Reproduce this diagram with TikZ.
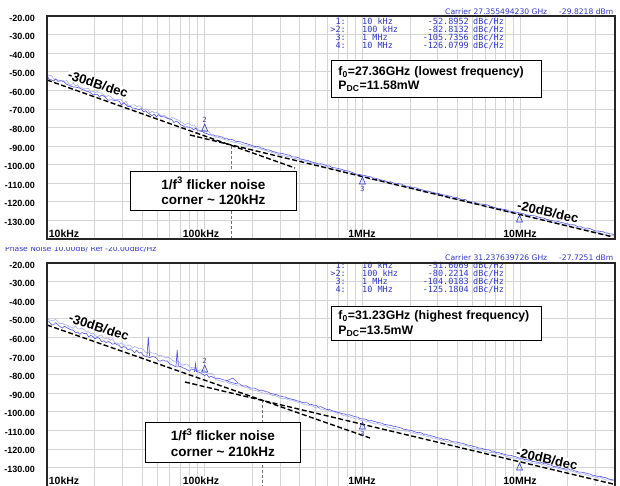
\documentclass[tikz,border=0pt]{standalone}
\usepackage{fontspec}
\setmainfont{Liberation Sans}
\newfontfamily\tblfont{DejaVu Sans Mono}
\newfontfamily\hdrfont{DejaVu Sans}
\definecolor{mblue}{RGB}{45,55,205}
\definecolor{tdark}{RGB}{85,85,235}
\definecolor{tlight}{RGB}{165,175,245}
\newcommand\pnframe[2]{%
  \foreach \d in {0,1,2,3}{\foreach \m in {1,...,9}{%
    \pgfmathsetmacro\xx{47+157.7*(\d+log10(\m))}%
    \ifdim\xx pt<614pt \draw[gridl] (\xx,#1) -- (\xx,{#1+223}); \fi}}%
  \foreach \k in {1,...,11}{\draw[gridl] (47,{#1+\k*18.58}) -- (615,{#1+\k*18.58});}%
  \foreach \k in {0,...,11}{\pgfmathtruncatemacro\v{-20-10*\k}%
    \node[ylab] (yl#2\k) at (35,{#1+\k*18.58+2}) {\v.00};}%
  \node[xlab] (xa#2) at (64,{#1+218}) {10kHz};
  \node[xlab] (xb#2) at (201,{#1+218}) {100kHz};
  \node[xlab] (xc#2) at (362,{#1+218}) {1MHz};
}
\newcommand\mkup[4]{% x, base y, label, name
  \draw[mkline] ({#1-3},#2) -- (#1,{#2-7}) -- ({#1+3},#2) -- cycle;
  \node[mklab] (#4) at (#1,{#2-11}) {#3};}
\newcommand\mkdn[4]{% x, apex y, label, name
  \draw[mkline] ({#1-3},{#2+7}) -- (#1,#2) -- ({#1+3},{#2+7}) -- cycle;
  \node[mklab] (#4) at (#1,{#2+12}) {#3};}
\newcommand\mktri[2]{% x, apex y
  \draw[mkline] ({#1-3},{#2+7}) -- (#1,#2) -- ({#1+3},{#2+7}) -- cycle;}
\begin{document}
\begin{tikzpicture}[x=1pt,y=-1pt,
  declare function={
    trA(\x)=(\x<204.7)?(77+0.352*(\x-47)):((\x<362.4)?(132.7+0.27*(\x-204.7)):((\x<520)?(175.3+0.24*(\x-362.4)):(213+0.23*(\x-520))));
    trB(\x)=(\x<204.7)?(321.6+0.337*(\x-47)):((\x<362.4)?(374.7+0.28*(\x-204.7)):((\x<520)?(418.8+0.249*(\x-362.4)):(458.1+0.23*(\x-520))));
    nz(\x)=(\x<210)?1.8:0.6;
    offA(\x)=(\x<210)?-2:1.5;
    offB(\x)=(\x<215)?-3.5:1.5;
  },
  gridl/.style={draw=black!17, line width=0.6pt},
  framel/.style={draw=black!85, line width=1.1pt},
  ylab/.style={anchor=east, font=\bfseries\fontsize{9}{10}\selectfont, inner sep=0pt},
  xlab/.style={font=\bfseries\fontsize{10.5}{12}\selectfont, inner sep=0.8pt, fill=white},
  slopel/.style={draw=black, line width=1.4pt, dash pattern=on 5pt off 2.5pt},
  cornerl/.style={draw=black!55, line width=0.9pt, dash pattern=on 3pt off 2pt},
  abox/.style={draw=black, line width=0.9pt, fill=white, align=left, anchor=north west,
    font=\bfseries\fontsize{12.3}{14.5}\selectfont, inner xsep=7pt, text width=196pt},
  cbox/.style={draw=black, line width=0.9pt, fill=white, align=center, anchor=north west,
    font=\bfseries\fontsize{13.5}{15.5}\selectfont},
  rlab/.style={font=\bfseries\fontsize{13}{14}\selectfont, fill=white, inner sep=0.5pt},
  tbl/.style={text=mblue, font=\tblfont\fontsize{8.5}{8.5}\selectfont, inner sep=0pt},
  hdr/.style={text=mblue, font=\hdrfont\fontsize{7.6}{8}\selectfont, inner sep=0pt},
  mkline/.style={draw=mblue, line width=0.6pt},
  mklab/.style={text=mblue, font=\hdrfont\fontsize{7}{7}\selectfont, inner sep=0pt},
]
\useasboundingbox (0,0) rectangle (620,486);
\pgfmathsetseed{42}
% ---------------- top plot ----------------
\pnframe{16}{A}
\node[hdr, anchor=base west] (carA) at (445,15) {Carrier 27.355494230 GHz};
\begin{scope}
\clip (540,0) rectangle (617,20);
\node[hdr, anchor=base west] (pwA) at (559,15) {-29.8218 dBm};
\end{scope}
\foreach \i/\ix/\f/\v/\yy in {1/1:/10 kHz/-52.8952/24.8, 2/>2:/100 kHz/-82.8132/32.8, 3/3:/1 MHz/-105.7356/40.6, 4/4:/10 MHz/-126.0799/48.5}{
  \node[tbl, anchor=base east] (tiA\i) at (346,\yy) {\ix};
  \node[tbl, anchor=base west] (tfA\i) at (362,\yy) {\f};
  \node[tbl, anchor=base east] (tvA\i) at (469,\yy) {\v};
  \node[tbl, anchor=base west] (tuA\i) at (473,\yy) {dBc/Hz};
}
\coordinate (cA1) at (231,146);
\coordinate (cA2) at (231,239);
\draw[cornerl] (cA1) -- (cA2);
\node[rlab, rotate=-18] (s30A) at (98,84) {-30dB/dec};
\node[rlab, rotate=-12.5] (s20A) at (548,212) {-20dB/dec};
\draw[tlight, line width=0.6pt] plot[domain=47:614, samples=260, variable=\x] (\x,{trA(\x)+offA(\x)+nz(\x)*rand});
\draw[tdark, line width=0.6pt] plot[domain=47:614, samples=260, variable=\x] (\x,{trA(\x)+nz(\x)*rand});
\coordinate (a1) at (47,80);
\coordinate (a2) at (295,168);
\coordinate (b1) at (190,135);
\coordinate (b2) at (613,237);
\draw[slopel] (a1) -- (a2);
\draw[slopel] (b1) -- (b2);
\mkup{204.7}{131}{2}{mA2}
\mkdn{362.4}{177}{3}{mA3}
\mktri{519.5}{215}
\node[xlab] (xdA) at (520,234) {10MHz};
\node[abox, minimum height=37pt] (fA) at (331,60) {f\textsubscript{0}=27.36GHz (lowest frequency)\\P\textsubscript{DC}=11.58mW};
\node[cbox, minimum width=166pt, minimum height=39pt] (kA) at (130,171) {1/f\textsuperscript{3} flicker noise\\corner \textasciitilde{} 120kHz};
\draw[framel] (47,16) rectangle (615,239);
% ---------------- bottom plot ----------------
\begin{scope}
\clip (0,247.5) rectangle (250,262);
\node[hdr, anchor=base west] (hdB) at (5,251) {Phase Noise 10.00dB/ Ref -20.00dBc/Hz};
\end{scope}
\pnframe{263}{B}
\node[hdr, anchor=base west] (carB) at (445,260) {Carrier 31.237639726 GHz};
\begin{scope}
\clip (540,246) rectangle (617,265);
\node[hdr, anchor=base west] (pwB) at (559,260) {-27.7251 dBm};
\end{scope}
\foreach \i/\ix/\f/\v/\yy in {1/1:/10 kHz/-51.6069/268.3, 2/>2:/100 kHz/-80.2214/276.4, 3/3:/1 MHz/-104.0183/284.5, 4/4:/10 MHz/-125.1804/292.4}{
  \node[tbl, anchor=base east] (tiB\i) at (346,\yy) {\ix};
  \node[tbl, anchor=base west] (tfB\i) at (362,\yy) {\f};
  \node[tbl, anchor=base east] (tvB\i) at (469,\yy) {\v};
  \node[tbl, anchor=base west] (tuB\i) at (473,\yy) {dBc/Hz};
}
\coordinate (cB1) at (262,400);
\coordinate (cB2) at (262,486);
\draw[cornerl] (cB1) -- (cB2);
\node[rlab, rotate=-18] (s30B) at (99,327) {-30dB/dec};
\node[rlab, rotate=-12.5] (s20B) at (547,459) {-20dB/dec};
\draw[tlight, line width=0.6pt] plot[domain=47:614, samples=260, variable=\x] (\x,{trB(\x)+offB(\x)+nz(\x)*rand});
\draw[tdark, line width=0.6pt] plot[domain=47:614, samples=260, variable=\x] (\x,{trB(\x)+nz(\x)*rand});
\draw[tdark, line width=0.7pt] (147,356) -- (148.3,337) -- (149.6,356);
\draw[tdark, line width=0.7pt] (176,366) -- (177.2,350) -- (178.4,366);
\draw[tdark, line width=0.7pt] (194.5,372) -- (195.5,364) -- (196.5,372);
\draw[tdark, line width=0.6pt] (226,381) -- (233,378) -- (238,383);
\coordinate (c1) at (47,325);
\coordinate (c2) at (370,438);
\coordinate (d1) at (185,382);
\coordinate (d2) at (613,484);
\draw[slopel] (c1) -- (c2);
\draw[slopel] (d1) -- (d2);
\mkup{204.7}{372}{2}{mB2}
\mkdn{362.4}{422}{3}{mB3}
\mktri{519.5}{463}
\node[xlab] (xdB) at (520,481) {10MHz};
\node[abox, minimum height=34pt] (fB) at (331,306) {f\textsubscript{0}=31.23GHz (highest frequency)\\P\textsubscript{DC}=13.5mW};
\node[cbox, minimum width=155pt, minimum height=40pt] (kB) at (145,422) {1/f\textsuperscript{3} flicker noise\\corner \textasciitilde{} 210kHz};
\draw[framel] (47,263) rectangle (615,487);
\end{tikzpicture}
\end{document}
